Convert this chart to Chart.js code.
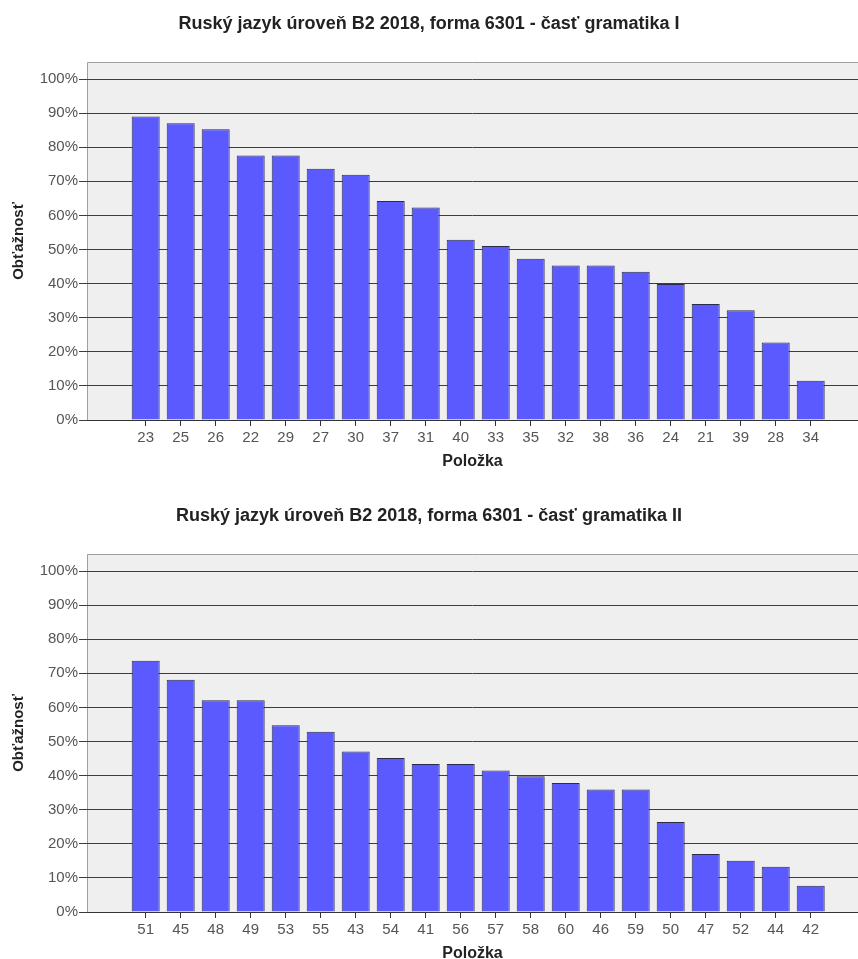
<!DOCTYPE html>
<html>
<head>
<meta charset="utf-8">
<script src="https://cdn.jsdelivr.net/npm/chart.js@4/dist/chart.umd.min.js"></script>
<style>
  html, body { margin: 0; padding: 0; background: #fff; overflow: hidden; }
  .box { position: absolute; left: 0; width: 858px; height: 492px; }
</style>
</head>
<body>
<div class="box" style="top:0"><canvas id="c1" width="858" height="492"></canvas></div>
<div class="box" style="top:492px"><canvas id="c2" width="858" height="492"></canvas></div>
<script>
// ---- data ----
const title1 = "Ruský jazyk úroveň B2 2018, forma 6301 - časť gramatika I";
const items1 = ["23","25","26","22","29","27","30","37","31","40","33","35","32","38","36","24","21","39","28","34"];
const values1 = [89.0, 87.0, 85.3, 77.6, 77.6, 73.7, 71.9, 64.2, 62.3, 52.9, 51.0, 47.3, 45.3, 45.3, 43.5, 39.9, 34.0, 32.2, 22.7, 11.5];

const title2 = "Ruský jazyk úroveň B2 2018, forma 6301 - časť gramatika II";
const items2 = ["51","45","48","49","53","55","43","54","41","56","57","58","60","46","59","50","47","52","44","42"];
const values2 = [73.7, 68.1, 62.1, 62.1, 54.8, 52.9, 47.1, 45.2, 43.4, 43.4, 41.5, 39.8, 37.8, 35.9, 35.9, 26.4, 17.0, 15.0, 13.3, 7.7];

const yTicks = [0, 10, 20, 30, 40, 50, 60, 70, 80, 90, 100];
const xAxisTitle = "Položka";
const yAxisTitle = "Obťažnosť";

const FONT = "'Liberation Sans', Arial, sans-serif";

const plotBg = {
  id: 'plotBg',
  beforeDraw(chart) {
    const {ctx, chartArea: a} = chart;
    ctx.save();
    ctx.fillStyle = '#efefef';
    ctx.fillRect(a.left, a.top, a.right - a.left, a.bottom - a.top);
    ctx.strokeStyle = '#a0a0a0';
    ctx.lineWidth = 1;
    ctx.beginPath();
    ctx.moveTo(a.left + 0.5, a.bottom);
    ctx.lineTo(a.left + 0.5, a.top + 0.5);
    ctx.lineTo(a.right, a.top + 0.5);
    ctx.stroke();
    ctx.restore();
  }
};

function makeChart(id, title, items, values) {
  const data = values.map((v, i) => ({x: i, y: v}));
  return new Chart(document.getElementById(id), {
    type: 'bar',
    data: {
      datasets: [{
        data: data,
        backgroundColor: '#5a5aff',
        borderColor: '#2b2b4a',
        borderWidth: 1,
        barPercentage: 0.8,
        categoryPercentage: 1.0
      }]
    },
    options: {
      responsive: false,
      animation: false,
      layout: { padding: 0 },
      plugins: {
        legend: { display: false },
        tooltip: { enabled: false },
        title: {
          display: true,
          text: title,
          color: '#222',
          font: { family: FONT, size: 18, weight: 'bold' },
          padding: { top: 13.5, bottom: 26.9 }
        }
      },
      scales: {
        x: {
          type: 'linear',
          offset: false,
          min: -1.677,
          max: 20.351,
          afterBuildTicks: (s) => { s.ticks = items.map((_, i) => ({value: i})); },
          afterFit: (s) => { s.height = 72; },
          ticks: {
            autoSkip: false,
            maxRotation: 0,
            padding: 3,
            color: '#555',
            font: { family: FONT, size: 15 },
            callback: (v) => items[v]
          },
          grid: { offset: false, drawOnChartArea: false, drawTicks: true, tickLength: 6, color: '#333' },
          border: { display: true, color: '#333', width: 1 },
          title: {
            display: true,
            text: xAxisTitle,
            color: '#222',
            font: { family: FONT, size: 16, weight: 'bold' },
            padding: { top: 0, bottom: 20.4 }
          }
        },
        y: {
          min: 0,
          max: 105,
          afterBuildTicks: (s) => { s.ticks = yTicks.map(v => ({value: v})); },
          afterFit: (s) => { s.width = 87; },
          ticks: {
            padding: 1,
            color: '#555',
            font: { family: FONT, size: 15 },
            callback: (v) => v + '%'
          },
          grid: { color: '#3c3c3c', lineWidth: 1, tickLength: 8 },
          border: { display: false },
          title: {
            display: true,
            text: yAxisTitle,
            color: '#222',
            font: { family: FONT, size: 15, weight: 'bold' },
            padding: { top: 10, bottom: 0 }
          }
        }
      }
    },
    plugins: [plotBg]
  });
}

makeChart('c1', title1, items1, values1);
makeChart('c2', title2, items2, values2);
</script>
</body>
</html>
